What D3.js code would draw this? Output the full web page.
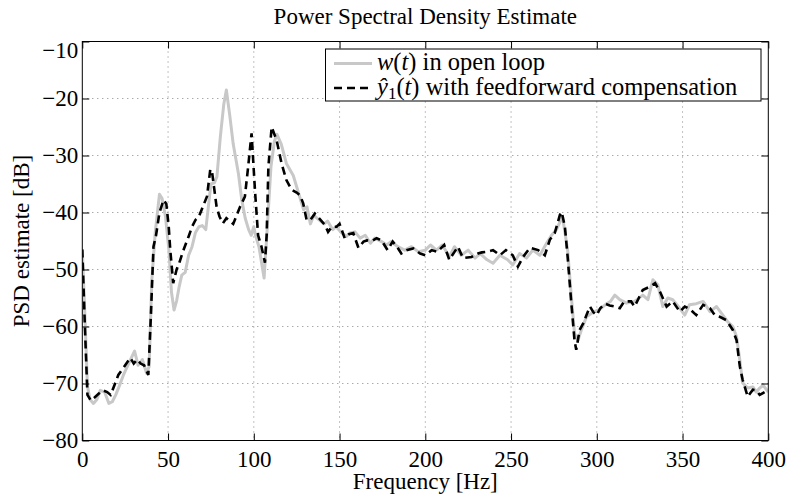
<!DOCTYPE html>
<meta charset="utf-8">
<style>
    body { margin: 0; background: #fff; }
    .grid line { stroke: #666; stroke-width: 0.8; stroke-dasharray: 1,4; }
    .axis line { stroke: #000; }
</style>
<svg width="788" height="497"></svg>
<script src="https://d3js.org/d3.v7.min.js"></script>
<script>
    // w(t) in open loop
    var wFreq = [0, 1.5, 3, 4.5, 6.5, 8.5, 10.5, 13, 15.5, 17.5, 19.5, 21.5, 24, 27, 30.5, 32.5, 35, 37.5, 39, 40.5,
        42.5, 45, 46.5, 48.5, 50.5, 52, 53.5, 55, 56.5, 58, 60, 62, 64, 66, 68, 70, 72, 73.5, 75, 77,
        78.5, 80.5, 82.5, 84, 86, 88, 91, 93, 95, 97, 98.5, 100, 101, 103, 106, 108, 110, 112, 113.5, 116,
        119, 123, 126, 129, 131, 133, 135, 138, 141, 143, 146, 148, 151, 154, 156, 159, 162, 165, 168, 170.5,
        174.5, 177.5, 180, 184, 188, 192, 196, 200, 203, 206.5, 210, 214, 217, 221, 225, 229, 232, 236, 239.5, 243.5,
        248, 251, 255, 259, 262.7, 266.8, 270.7, 273.6, 276.5, 280, 283, 285, 287, 289, 291, 294, 297.8, 301.8, 305.7, 308,
        310.5, 313.4, 317.3, 322, 326.8, 329.8, 332.7, 335.6, 338.5, 341.4, 344.3, 348.4, 351.3, 354, 358, 362, 366, 369.8, 373.5, 376.4,
        379.3, 381.5, 383.4, 385, 388, 391, 393, 395, 397, 400];
    var wPsd = [-46.5, -58, -70.5, -72.8, -73.5, -72.8, -71.2, -71.5, -73.5, -73.2, -72, -70.5, -68.5, -66.5, -64.3, -66.8, -65.8, -68.2, -67, -52,
        -43.6, -36.8, -37.5, -40.7, -46.6, -54, -57.1, -55.5, -53, -51, -50.5, -47.5, -46, -43.5, -42.5, -42.3, -43, -39, -35, -34.8,
        -33.7, -26.7, -21, -18.5, -23, -28, -33.1, -37.8, -41, -43, -44, -42.5, -44, -46, -51.5, -42, -32, -27.5, -26.3, -28,
        -31.4, -33.5, -36.5, -39.5, -39, -42, -40.5, -41.3, -42, -41.5, -43, -42.5, -43.5, -44.2, -43.6, -43.4, -44.5, -44, -45.4, -44.5,
        -45.1, -45.7, -45.1, -46, -46.6, -46, -46.9, -46.6, -45.7, -46.6, -45.7, -47.8, -46, -47.5, -46.6, -48, -47.2, -48.3, -48.9, -47.5,
        -48.3, -49.2, -47.2, -48, -46.6, -47.5, -45.4, -44, -43, -40.7, -46.6, -54.2, -61.2, -62.4, -60.6, -58.3, -57.5, -57, -56, -55.6,
        -54.5, -55.3, -55.9, -55.6, -54.5, -55.3, -51.8, -52.7, -56.5, -55, -55.3, -56.8, -58, -56.2, -56, -55.6, -57.4, -56.5, -58, -59.2,
        -60, -61.8, -65.9, -69.9, -70.8, -70.6, -71.5, -70.8, -70.3, -71.5];

    // y1hat(t) with feedforward compensation
    var yFreq = [0, 1.5, 3, 5, 7, 9.5, 12, 14.5, 16.5, 18.5, 21, 24.5, 28, 30, 32, 34, 36, 38.5, 40, 41.5,
        43, 45, 47.4, 49, 50.4, 51.3, 53, 55, 56.5, 58.5, 62, 64, 66, 68, 70, 72.7, 74.6, 75.5, 77, 78.3,
        80, 82, 84, 86, 88, 90, 92, 94.8, 96.7, 98.7, 100.7, 102.5, 104.5, 106.5, 107.5, 108.5, 110.4, 113.3, 116.2, 119,
        122, 125, 127, 128.8, 130.8, 133, 135.6, 138, 141.5, 143.3, 145.5, 148.3, 150, 153, 155.5, 158, 161, 164, 166, 169,
        171.6, 174.5, 178, 181, 183.5, 186, 189, 193, 197, 200, 203.7, 207, 211, 214, 219, 222, 227, 230.7, 233, 236,
        239.5, 243.5, 247, 251, 254, 257, 261, 265.8, 269.7, 272.6, 275.5, 278.5, 279.5, 281.4, 283, 285, 287, 288, 290, 292,
        294, 296, 298, 300, 302, 304.7, 307.5, 310.5, 313.4, 316, 320, 322, 324.5, 326.8, 331, 334, 337, 340.7, 344.3, 348.4,
        351.3, 354.5, 358, 362, 366, 368.8, 371.7, 375.6, 379.3, 381.5, 383.4, 385, 388, 391, 393, 395, 398, 400];
    var yPsd = [-46.5, -60, -72, -73, -72.5, -71.8, -71.2, -71.5, -72, -70.5, -68.5, -67, -65.5, -66.5, -65.8, -66.5, -66.8, -68.5, -58, -46,
        -44, -40, -37.8, -38.5, -42.5, -46.6, -52.4, -50, -48.9, -47, -44.2, -42.5, -41.3, -40.7, -39.2, -37.2, -32.5, -32.5, -36, -39,
        -40.7, -41.9, -41, -41.5, -42, -40.5, -39, -37.2, -32, -26.1, -36.2, -44, -46, -48.8, -44, -32, -25, -27.3, -31.4, -34.3,
        -36, -36.5, -37, -38.4, -41.3, -41.3, -40.2, -41, -42.2, -43.4, -42.5, -42.5, -42, -44.5, -43.8, -43.6, -46.2, -45.1, -44.9, -45,
        -44.5, -44.9, -46.6, -45.1, -46, -47.2, -46.6, -46.3, -47.2, -47.5, -46.6, -46.9, -45.7, -48.3, -46, -48, -47.8, -47.2, -47, -46.9,
        -46.6, -47.5, -46.6, -47.5, -49.5, -47.8, -46.2, -46.6, -47.5, -44.8, -43.6, -40.4, -39.9, -42.5, -47.8, -55.4, -62.4, -64.1, -60.6, -59.5,
        -58, -56.5, -57.5, -58, -56.8, -56, -56.3, -56.5, -56.8, -55.6, -55.6, -56.5, -55, -53.6, -53, -52.4, -54, -56.5, -55.6, -57.4,
        -56.5, -57, -58, -56.2, -56.8, -58, -58.3, -58.9, -60.6, -62.4, -67, -69.3, -72.3, -71.1, -71.2, -72, -71.5, -71.5];

    var xTicks = [0, 50, 100, 150, 200, 250, 300, 350, 400];
    var yTicks = [-80, -70, -60, -50, -40, -30, -20, -10];

    var serif = "Liberation Serif, Times New Roman, serif";

    var svg = d3.select("svg"),
        marginLeft = 82.3, marginTop = 41.5,
        width = 686, height = 399;

    var x = d3.scaleLinear().domain([0, 400]).range([0, width]);
    var y = d3.scaleLinear().domain([-80, -10]).range([height, 0]);

    var g = svg.append("g").attr("transform", "translate(" + marginLeft + "," + marginTop + ")");

    svg.append("defs").append("clipPath").attr("id", "clip")
        .append("rect").attr("width", width).attr("height", height);

    // dotted grid
    var grid = g.append("g").attr("class", "grid");
    grid.selectAll(".gx").data(xTicks.slice(1, -1)).enter().append("line")
        .attr("x1", function(d) { return x(d); }).attr("x2", function(d) { return x(d); })
        .attr("y1", 0).attr("y2", height);
    grid.selectAll(".gy").data(yTicks.slice(1, -1)).enter().append("line")
        .attr("y1", function(d) { return y(d); }).attr("y2", function(d) { return y(d); })
        .attr("x1", 0).attr("x2", width);

    var line = d3.line()
        .x(function(d) { return x(d[0]); })
        .y(function(d) { return y(d[1]); });

    var plot = g.append("g").attr("clip-path", "url(#clip)");
    plot.append("path")
        .datum(d3.zip(wFreq, wPsd))
        .attr("d", line)
        .attr("fill", "none")
        .attr("stroke", "#c8c8c8")
        .attr("stroke-width", 3)
        .attr("stroke-linejoin", "round");
    plot.append("path")
        .datum(d3.zip(yFreq, yPsd))
        .attr("d", line)
        .attr("fill", "none")
        .attr("stroke", "#000")
        .attr("stroke-width", 2.6)
        .attr("stroke-dasharray", "8,5");

    // axes, ticks pointing inward
    g.append("g").attr("class", "axis")
        .attr("transform", "translate(0," + height + ")")
        .call(d3.axisBottom(x).tickValues(xTicks).tickSize(-7).tickPadding(10));
    var ay = g.append("g").attr("class", "axis")
        .call(d3.axisLeft(y).tickValues(yTicks).tickSize(-7).tickPadding(4)
            .tickFormat(function(d) { return "\u2212" + Math.abs(d); }));
    ay.selectAll("text").filter(function(d) { return d === -10; }).attr("dy", "0.7em");
    g.append("g").attr("class", "axis")
        .call(d3.axisTop(x).tickValues(xTicks).tickSize(-7).tickFormat(""));
    g.append("g").attr("class", "axis")
        .attr("transform", "translate(" + width + ",0)")
        .call(d3.axisRight(y).tickValues(yTicks).tickSize(-7).tickFormat(""));
    g.selectAll(".axis .domain").remove();
    g.selectAll(".axis").attr("font-family", serif).attr("font-size", 23);
    g.selectAll(".axis text").attr("font-family", serif).attr("font-size", 23).attr("fill", "#000");

    g.append("rect")
        .attr("width", width).attr("height", height)
        .attr("fill", "none").attr("stroke", "#000").attr("stroke-width", 1);

    // titles
    svg.append("text").attr("x", marginLeft + width / 2).attr("y", 24)
        .attr("text-anchor", "middle").attr("font-family", serif).attr("font-size", 23)
        .text("Power Spectral Density Estimate");
    svg.append("text").attr("x", marginLeft + width / 2).attr("y", 489)
        .attr("text-anchor", "middle").attr("font-family", serif).attr("font-size", 23)
        .text("Frequency [Hz]");
    svg.append("text")
        .attr("transform", "translate(29," + (marginTop + height / 2) + ") rotate(-90)")
        .attr("text-anchor", "middle").attr("font-family", serif).attr("font-size", 23)
        .text("PSD estimate [dB]");

    // legend
    var leg = svg.append("g");
    leg.append("rect").attr("x", 325.5).attr("y", 49).attr("width", 435.5).attr("height", 52)
        .attr("fill", "#fff").attr("stroke", "#000").attr("stroke-width", 1);
    leg.append("line").attr("x1", 334).attr("x2", 372).attr("y1", 63.5).attr("y2", 63.5)
        .attr("stroke", "#c8c8c8").attr("stroke-width", 3);
    leg.append("line").attr("x1", 334).attr("x2", 372).attr("y1", 88).attr("y2", 88)
        .attr("stroke", "#000").attr("stroke-width", 2.6).attr("stroke-dasharray", "8,5");

    var t1 = leg.append("text").attr("x", 377).attr("y", 70)
        .attr("font-family", serif).attr("font-size", 24.5);
    t1.append("tspan").attr("font-style", "italic").text("w");
    t1.append("tspan").text("(");
    t1.append("tspan").attr("font-style", "italic").text("t");
    t1.append("tspan").text(") in open loop");

    var t2 = leg.append("text").attr("x", 377).attr("y", 94.5)
        .attr("font-family", serif).attr("font-size", 24.5);
    t2.append("tspan").attr("font-style", "italic").text("\u0177");
    t2.append("tspan").attr("font-size", 17).attr("dy", 4).text("1");
    t2.append("tspan").attr("dy", -4).text("(");
    t2.append("tspan").attr("font-style", "italic").text("t");
    t2.append("tspan").text(") with feedforward compensation");
</script>
